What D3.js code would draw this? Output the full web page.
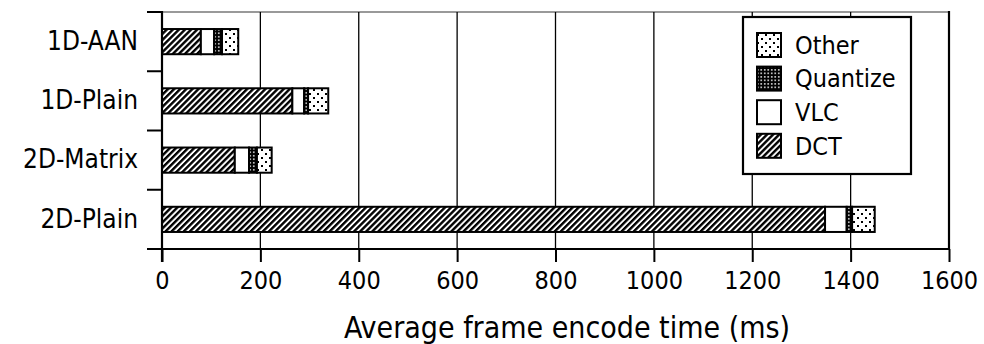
<!DOCTYPE html>
<html><head><meta charset="utf-8">
<script src="https://cdn.jsdelivr.net/npm/d3@7"></script>
<style>
html,body{margin:0;padding:0;background:#fff;}
svg{display:block;}
text{font-family:"DejaVu Sans Condensed","DejaVu Sans",sans-serif;font-stretch:condensed;fill:#000;}
</style></head>
<body><svg id="chart" width="984" height="344"></svg>
<script>
const categories = ["1D-AAN", "1D-Plain", "2D-Matrix", "2D-Plain"];
const seriesNames = ["DCT", "VLC", "Quantize", "Other"];
const dctValues = [79, 265, 148, 1348];
const vlcValues = [27, 24, 29, 44];
const quantizeValues = [16, 8, 16, 11];
const otherValues = [33, 41, 30, 46];
const xTicks = [0, 200, 400, 600, 800, 1000, 1200, 1400, 1600];
const xTitle = "Average frame encode time (ms)";
const legendOrder = ["Other", "Quantize", "VLC", "DCT"];

const svg = d3.select("#chart");
const L = 162, R = 949, T = 12, B = 249;

const x = d3.scaleLinear().domain([0, 1600]).range([L, R]);
const pIn = 0.575;
const y = d3.scaleBand().domain(categories).range([T, B]).paddingInner(pIn).paddingOuter(pIn / 2);

// patterns
const defs = svg.append("defs");
const hatch = defs.append("pattern").attr("id", "p-DCT").attr("patternUnits", "userSpaceOnUse")
  .attr("width", 4.3).attr("height", 10).attr("patternTransform", "rotate(45)");
hatch.append("rect").attr("width", 4.3).attr("height", 10).attr("fill", "#fff");
hatch.append("rect").attr("width", 2.4).attr("height", 10).attr("fill", "#000");

defs.append("pattern").attr("id", "p-VLC").attr("patternUnits", "userSpaceOnUse")
  .attr("width", 4).attr("height", 4)
  .append("rect").attr("width", 4).attr("height", 4).attr("fill", "#fff");

const quant = defs.append("pattern").attr("id", "p-Quantize").attr("patternUnits", "userSpaceOnUse")
  .attr("width", 3.5).attr("height", 3.5);
quant.append("rect").attr("width", 3.5).attr("height", 3.5).attr("fill", "#000");
quant.append("rect").attr("x", 1).attr("y", 1).attr("width", 1.5).attr("height", 1.5).attr("fill", "#fff");

const other = defs.append("pattern").attr("id", "p-Other").attr("patternUnits", "userSpaceOnUse")
  .attr("width", 8).attr("height", 8);
other.append("rect").attr("width", 8).attr("height", 8).attr("fill", "#fff");
other.append("rect").attr("x", 1).attr("y", 1).attr("width", 2).attr("height", 2).attr("fill", "#000");
other.append("rect").attr("x", 5).attr("y", 5).attr("width", 2).attr("height", 2).attr("fill", "#000");

// frame: top gray
svg.append("line").attr("x1", L).attr("x2", R).attr("y1", T).attr("y2", T)
  .attr("stroke", "#999").attr("stroke-width", 2);

// gridlines
svg.append("g").selectAll("line").data(xTicks.filter(d => d > 0 && d < 1600)).join("line")
  .attr("x1", d => x(d)).attr("x2", d => x(d)).attr("y1", T).attr("y2", B)
  .attr("stroke", "#000").attr("stroke-width", 1.3);
svg.append("line").attr("x1", R).attr("x2", R).attr("y1", T - 1).attr("y2", B)
  .attr("stroke", "#000").attr("stroke-width", 2.2);

// stacked bars
const rows = categories.map((c, i) => ({cat: c, DCT: dctValues[i], VLC: vlcValues[i], Quantize: quantizeValues[i], Other: otherValues[i]}));
const stack = d3.stack().keys(seriesNames)(rows);
const gBars = svg.append("g");
stack.forEach(layer => {
  gBars.append("g").selectAll("rect").data(layer).join("rect")
    .attr("x", d => x(d[0])).attr("width", d => x(d[1]) - x(d[0]))
    .attr("y", d => y(d.data.cat)).attr("height", y.bandwidth())
    .attr("fill", `url(#p-${layer.key})`)
    .attr("stroke", "#000").attr("stroke-width", 2);
});

// left axis
const yAxis = d3.axisLeft(y).tickSize(0).tickPadding(24);
const gy = svg.append("g").attr("transform", `translate(${L},0)`).call(yAxis);
gy.select(".domain").remove();
gy.selectAll("text").attr("font-size", 26).style("font-family", null);
svg.append("line").attr("x1", L).attr("x2", L).attr("y1", T - 1).attr("y2", B + 13)
  .attr("stroke", "#000").attr("stroke-width", 2.2);
const step = y.step();
svg.append("g").selectAll("line").data(d3.range(categories.length + 1)).join("line")
  .attr("x1", L - 15).attr("x2", L).attr("y1", i => T + i * step).attr("y2", i => T + i * step)
  .attr("stroke", "#000").attr("stroke-width", 2);

// bottom axis
const xAxis = d3.axisBottom(x).tickValues(xTicks).tickSize(13).tickPadding(9).tickFormat(d3.format("d"));
const gx = svg.append("g").attr("transform", `translate(0,${B})`).call(xAxis);
gx.select(".domain").remove();
gx.selectAll(".tick line").attr("stroke", "#000").attr("stroke-width", 2);
gx.selectAll("text").attr("font-size", 25).style("font-family", null);
svg.append("line").attr("x1", L - 14).attr("x2", R).attr("y1", B).attr("y2", B)
  .attr("stroke", "#000").attr("stroke-width", 2.2);

svg.append("text").attr("x", 567).attr("y", 338).attr("text-anchor", "middle")
  .attr("font-size", 30).text(xTitle);

// legend
const lg = svg.append("g");
lg.append("rect").attr("x", 743).attr("y", 17).attr("width", 168).attr("height", 157)
  .attr("fill", "#fff").attr("stroke", "#000").attr("stroke-width", 2.2);
const items = lg.selectAll("g.item").data(legendOrder).join("g")
  .attr("transform", (d, i) => `translate(0,${45 + i * 33.6})`);
items.append("rect").attr("x", 757).attr("y", -12).attr("width", 24).attr("height", 24)
  .attr("fill", d => `url(#p-${d})`).attr("stroke", "#000").attr("stroke-width", 2);
items.append("text").attr("x", 795).attr("y", 0).attr("dy", "0.35em").attr("font-size", 25).text(d => d);
</script></body></html>
